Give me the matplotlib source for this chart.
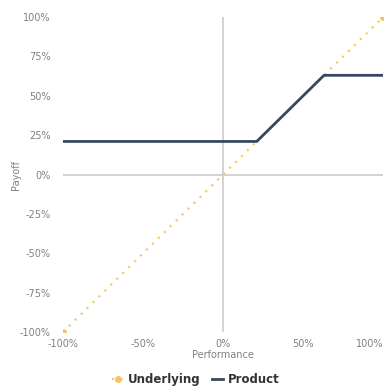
import matplotlib.pyplot as plt
import numpy as np

yellow = '#F5C460'
dark = '#34495E'
grid_grey = '#CCCCCC'
text_grey = '#808080'

perf = [-100, 100]
underlying = [-100, 100]
prod_x = [-100, 21, 63, 100]
prod_y = [21, 21, 63, 63]
ticks = [-100, -50, 0, 50, 100]
tick_labels = ['-100%', '-50%', '0%', '50%', '100%']
yticks = [-100, -75, -50, -25, 0, 25, 50, 75, 100]
ytick_labels = ['-100%', '-75%', '-50%', '-25%', '0%', '25%', '50%', '75%', '100%']

fig = plt.figure(figsize=(3.84, 3.87), dpi=100)
ax = fig.add_axes([0.164, 0.142, 0.834, 0.814])

ax.axhline(0, color=grid_grey, linewidth=1.2, zorder=1)
ax.axvline(0, color=grid_grey, linewidth=1.2, zorder=1)

ax.plot(perf, underlying, color=yellow, linestyle=(0, (1, 3)), linewidth=1.5,
        marker='o', markersize=4, label='Underlying', zorder=2)
ax.plot(prod_x, prod_y, color=dark, linewidth=2, label='Product', zorder=3)

ax.set_xlim(-100, 100)
ax.set_ylim(-100, 100)
ax.set_xticks(ticks)
ax.set_xticklabels(tick_labels)
ax.set_yticks(yticks)
ax.set_yticklabels(ytick_labels)
ax.tick_params(length=0, labelsize=7, colors=text_grey)
ax.tick_params(axis='x', pad=5)
ax.tick_params(axis='y', pad=9)
ax.get_xticklabels()[-1].set_horizontalalignment('right')
for s in ax.spines.values():
    s.set_visible(False)
ax.set_xlabel('Performance', fontsize=7, color=text_grey, labelpad=1)
ax.set_ylabel('Payoff', fontsize=7, color=text_grey)
ax.yaxis.set_label_coords(-0.13, 0.5)

leg = fig.legend(loc='lower center', bbox_to_anchor=(0.51, -0.025), ncol=2,
                 frameon=False, prop={'weight': 'bold', 'size': 8.5},
                 handlelength=0.9, columnspacing=1.0, handletextpad=0.4)
for t in leg.get_texts():
    t.set_color('#333333')

fig.savefig('out.png', dpi=100)
